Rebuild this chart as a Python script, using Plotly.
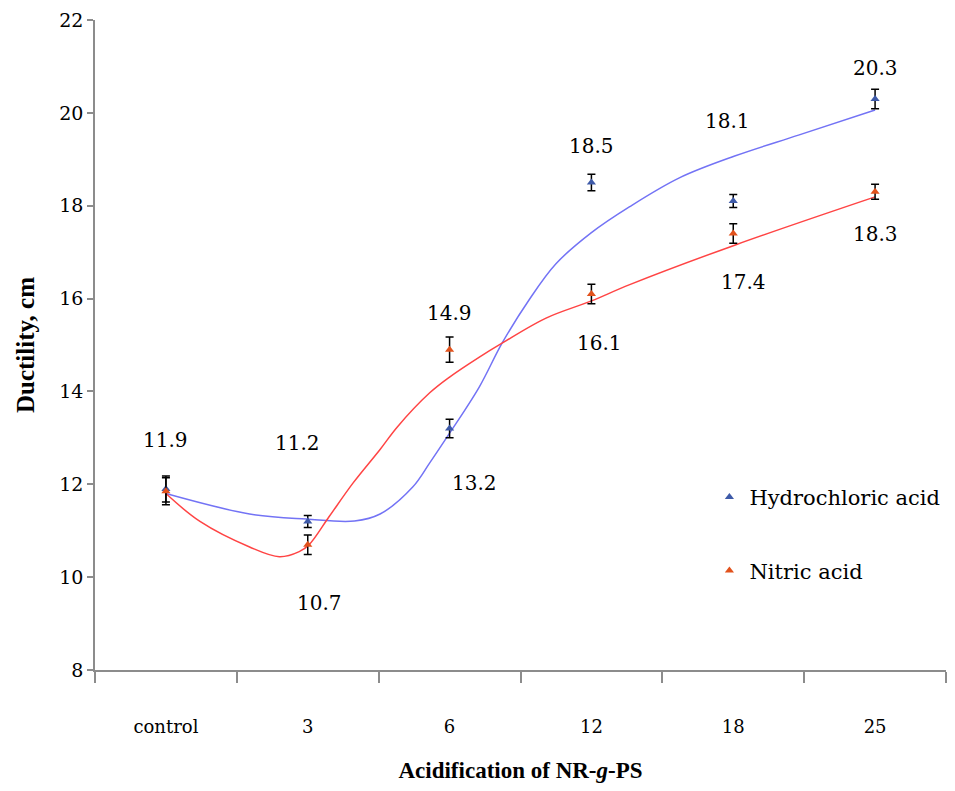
import plotly.graph_objects as go

categories = ["control", "3", "6", "12", "18", "25"]
cat_pos = [1, 2, 3, 4, 5, 6]

hcl_values = [11.9, 11.2, 13.2, 18.5, 18.1, 20.3]
hcl_err = [0.28, 0.13, 0.2, 0.18, 0.14, 0.21]
hno3_values = [11.85, 10.7, 14.9, 16.1, 17.4, 18.3]
hno3_err = [0.29, 0.21, 0.27, 0.21, 0.21, 0.16]

hcl_labels = ["11.9", "11.2", "13.2", "18.5", "18.1", "20.3"]
hno3_labels = ["", "10.7", "14.9", "16.1", "17.4", "18.3"]

# Smoothed trend curves
hcl_curve_x = [1.0, 1.59, 1.99, 2.33, 2.51, 2.74, 2.86, 3.0, 3.21, 3.37, 3.56, 3.75, 4.0, 4.27, 4.62, 5.01, 5.46, 6.0]
hcl_curve_y = [11.8, 11.36, 11.25, 11.21, 11.36, 11.94, 12.46, 13.1, 14.1, 15.04, 15.97, 16.75, 17.42, 17.98, 18.6, 19.07, 19.52, 20.06]
hno3_curve_x = [1.0, 1.24, 1.59, 1.80, 1.94, 2.01, 2.15, 2.32, 2.51, 2.63, 2.86, 3.0, 3.21, 3.37, 3.68, 4.0, 4.27, 5.01, 6.0]
hno3_curve_y = [11.8, 11.2, 10.65, 10.44, 10.55, 10.7, 11.3, 12.03, 12.75, 13.23, 13.97, 14.31, 14.74, 15.04, 15.58, 15.95, 16.3, 17.15, 18.19]

# label offsets (pixels) relative to each point
hcl_label_shift = [(0, 49), (-10, 78), (25, -54), (0, 37), (-6, 80), (0, 31)]
hno3_label_shift = [(0, 0), (12, -58), (0, 37), (8, -49), (10, -48), (0, -42)]

FONT = "DejaVu Serif"
BOLD_FONT = "Liberation Serif"
BLUE_LINE = "#7373f5"
RED_LINE = "#ff4444"
BLUE_MK = "#3e5aa8"
RED_MK = "#e2521c"

fig = go.Figure()

fig.add_trace(go.Scatter(x=hcl_curve_x, y=hcl_curve_y, mode="lines",
                         line=dict(color=BLUE_LINE, width=1.5, shape="spline", smoothing=1.0),
                         showlegend=False, hoverinfo="skip"))
fig.add_trace(go.Scatter(x=hno3_curve_x, y=hno3_curve_y, mode="lines",
                         line=dict(color=RED_LINE, width=1.5, shape="spline", smoothing=1.0),
                         showlegend=False, hoverinfo="skip"))

fig.add_trace(go.Scatter(x=cat_pos, y=hcl_values, mode="markers", name="Hydrochloric acid",
                         legendgroup="a",
                         marker=dict(symbol="triangle-up", size=8, color=BLUE_MK),
                         error_y=dict(type="data", array=hcl_err, color="black", thickness=1.5, width=4)))
fig.add_trace(go.Scatter(x=cat_pos, y=hno3_values, mode="markers", name="Nitric acid",
                         legendgroup="b",
                         marker=dict(symbol="triangle-up", size=8, color=RED_MK),
                         error_y=dict(type="data", array=hno3_err, color="black", thickness=1.5, width=4)))

annotations = []
for xv, yv, lab, (dx, dy) in zip(cat_pos, hcl_values, hcl_labels, hcl_label_shift):
    if lab:
        annotations.append(dict(x=xv, y=yv, text=lab, showarrow=False, xshift=dx, yshift=dy,
                                font=dict(family=FONT, size=20, color="black")))
for xv, yv, lab, (dx, dy) in zip(cat_pos, hno3_values, hno3_labels, hno3_label_shift):
    if lab:
        annotations.append(dict(x=xv, y=yv, text=lab, showarrow=False, xshift=dx, yshift=dy,
                                font=dict(family=FONT, size=20, color="black")))

fig.update_layout(
    width=955, height=791,
    margin=dict(l=95, r=9, t=20, b=121),
    paper_bgcolor="white", plot_bgcolor="white",
    font=dict(family=FONT, color="black"),
    annotations=annotations,
    legend=dict(x=0.722, y=0.297, xanchor="left", yanchor="top",
                font=dict(family=FONT, size=21, color="black"),
                tracegroupgap=43, bgcolor="rgba(0,0,0,0)"),
    showlegend=True,
)

fig.update_xaxes(
    range=[0.5, 6.5], tickmode="array", tickvals=cat_pos, ticktext=categories,
    ticks="", showgrid=False, zeroline=False, automargin=False,
    showline=True, linecolor="#8c8c8c", linewidth=1.5,
    tickfont=dict(family=FONT, size=18, color="black"),
    ticklabelstandoff=40,
    minor=dict(tickmode="array", tickvals=[0.5, 1.5, 2.5, 3.5, 4.5, 5.5, 6.5],
               ticks="outside", ticklen=11, tickcolor="#8c8c8c", tickwidth=1.5, showgrid=False),
    title=dict(text="<b>Acidification of NR-<i>g</i>-PS</b>", font=dict(family=BOLD_FONT, size=23, color="black"),
               standoff=26),
)
fig.update_yaxes(
    range=[8, 22], tickmode="array", tickvals=[8, 10, 12, 14, 16, 18, 20, 22],
    ticks="outside", ticklen=6, tickcolor="#8c8c8c", tickwidth=1.5,
    showgrid=False, zeroline=False, automargin=False,
    showline=True, linecolor="#8c8c8c", linewidth=1.5,
    tickfont=dict(family=FONT, size=19, color="black"),
    title=dict(text="<b>Ductility, cm</b>", font=dict(family=BOLD_FONT, size=25, color="black"), standoff=18),
)

fig.write_html("out.html", config={"displayModeBar": False},
               post_script="document.body.style.margin='0';document.body.style.overflow='hidden';")
